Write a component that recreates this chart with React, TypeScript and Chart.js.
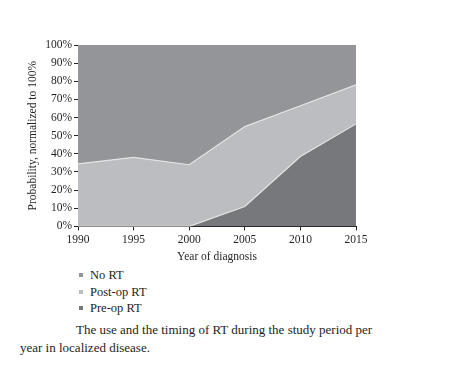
import React, { useEffect, useRef } from "react";
import { Chart, registerables } from "chart.js";

Chart.register(...registerables);

const years = [1990, 1995, 2000, 2005, 2010, 2015];
const preOp = [0, 0, 0, 11, 38.5, 56.5];
const postOp = [34.5, 38, 34, 44, 28, 21.5];
const noRT = [65.5, 62, 66, 45, 33.5, 22];
const seriesLabels = ["No RT", "Post-op RT", "Pre-op RT"];
const seriesColors = ["#939598", "#bcbdc0", "#77787b"];
const yTicks = [0, 10, 20, 30, 40, 50, 60, 70, 80, 90, 100];

const FONT = "'Liberation Serif', 'DejaVu Serif', serif";

export default function App() {
  const ref = useRef<HTMLCanvasElement | null>(null);

  useEffect(() => {
    if (!ref.current) return;
    const pts = (arr: number[]) => years.map((x, i) => ({ x, y: arr[i] }));
    const chart = new Chart(ref.current, {
      type: "line",
      data: {
        datasets: [
          {
            label: seriesLabels[2],
            data: pts(preOp),
            backgroundColor: seriesColors[2],
            borderColor: "#e4e4e4",
            borderWidth: 1.2,
            fill: "origin",
            pointRadius: 0,
            tension: 0,
          },
          {
            label: seriesLabels[1],
            data: pts(postOp),
            backgroundColor: seriesColors[1],
            borderColor: "#e4e4e4",
            borderWidth: 1.2,
            fill: "-1",
            pointRadius: 0,
            tension: 0,
          },
          {
            label: seriesLabels[0],
            data: pts(noRT),
            backgroundColor: seriesColors[0],
            borderColor: "rgba(0,0,0,0)",
            borderWidth: 0,
            fill: "-1",
            pointRadius: 0,
            tension: 0,
          },
        ],
      },
      options: {
        animation: false,
        responsive: false,
        maintainAspectRatio: false,
        layout: { padding: { left: 26, right: 114, top: 45, bottom: 0 } },
        plugins: {
          legend: { display: false },
          tooltip: { enabled: false },
        },
        scales: {
          x: {
            type: "linear",
            min: 1990,
            max: 2015,
            ticks: {
              stepSize: 5,
              color: "#231f20",
              font: { family: FONT, size: 11.5 },
              padding: 3,
              callback: (v: any) => String(v),
              maxRotation: 0,
            },
            grid: {
              display: true,
              drawOnChartArea: false,
              drawTicks: true,
              tickLength: 4,
              color: "#231f20",
            },
            border: { display: true, color: "#231f20", width: 1 },
            title: {
              display: true,
              text: "Year of diagnosis",
              color: "#231f20",
              font: { family: FONT, size: 11.5 },
              padding: { top: 0, bottom: 0 },
            },
          },
          y: {
            stacked: true,
            min: 0,
            max: 100,
            afterBuildTicks: (scale: any) => {
              scale.ticks = yTicks.map((v) => ({ value: v }));
            },
            afterFit: (scale: any) => {
              scale.width = 52;
            },
            ticks: {
              color: "#231f20",
              font: { family: FONT, size: 11.5 },
              padding: 2,
              callback: (v: any) => v + "%",
            },
            grid: {
              display: true,
              drawOnChartArea: false,
              drawTicks: true,
              tickLength: 4,
              color: "#231f20",
            },
            border: { display: true, color: "#231f20", width: 1 },
            title: {
              display: true,
              text: "Probability, normalized to 100%",
              color: "#231f20",
              font: { family: FONT, size: 11.5 },
              padding: { top: 0, bottom: 4 },
            },
          },
        },
      },
    });
    return () => chart.destroy();
  }, []);

  return (
    <div
      style={{
        position: "fixed",
        left: 0,
        top: 0,
        width: 470,
        height: 371,
        background: "#fff",
        fontFamily: FONT,
        color: "#231f20",
      }}
    >
      <canvas ref={ref} width={470} height={264} style={{ display: "block", position: "absolute", left: 0, top: 0 }} />
      <div style={{ position: "absolute", left: 79, top: 267, fontSize: 12.5, lineHeight: "16.5px" }}>
        {seriesLabels.map((l, i) => (
          <div key={l} style={{ display: "flex", alignItems: "center" }}>
            <span
              style={{
                display: "inline-block",
                width: 4,
                height: 4,
                background: seriesColors[i],
                marginRight: 7,
              }}
            />
            <span>{l}</span>
          </div>
        ))}
      </div>
      <div
        style={{
          position: "absolute",
          left: 20,
          top: 321,
          width: 365,
          fontSize: 13,
          lineHeight: "17.5px",
          textIndent: 56,
        }}
      >
        The use and the timing of RT during the study period per year in localized disease.
      </div>
    </div>
  );
}
